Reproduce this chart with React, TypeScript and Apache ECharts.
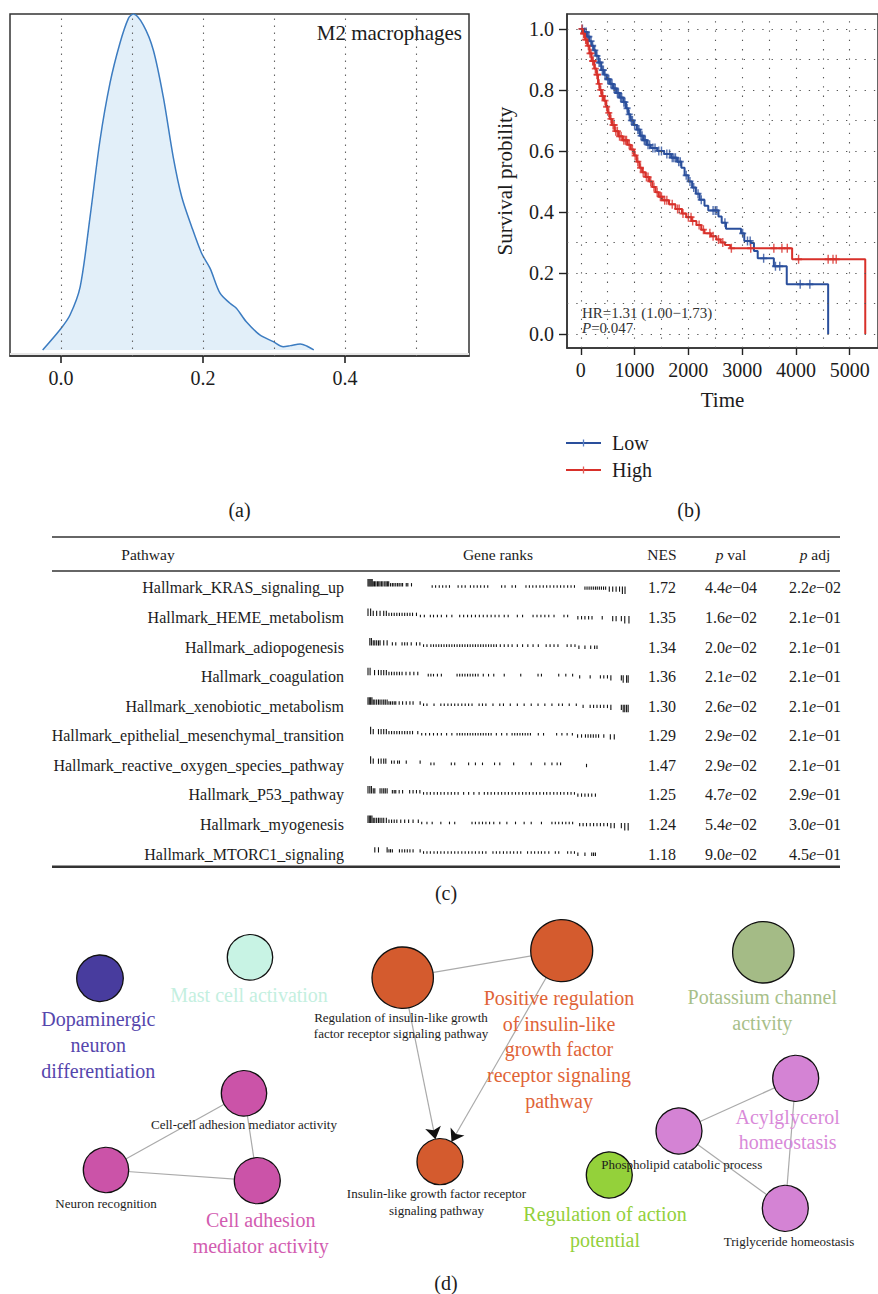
import React, { useEffect, useRef } from "react";
import * as echarts from "echarts";

const FONT = '"Liberation Serif", "Times New Roman", serif';
const INK = "#1c1c1c";
const BLUE = "#2a4f9c";
const RED = "#d8302a";

// ---------- (a) density of M2 macrophages ----------
const densityX = [-0.0258, 0.0, 0.0127, 0.027, 0.041, 0.055, 0.069, 0.083, 0.095, 0.102, 0.116, 0.13, 0.144, 0.158, 0.17, 0.184, 0.198, 0.21, 0.224, 0.238, 0.247, 0.261, 0.28, 0.299, 0.313, 0.323, 0.337, 0.346, 0.356];
const densityY = [0, 0.064, 0.104, 0.188, 0.397, 0.625, 0.794, 0.913, 0.987, 1.0, 0.967, 0.893, 0.754, 0.575, 0.456, 0.367, 0.288, 0.243, 0.169, 0.139, 0.124, 0.084, 0.045, 0.025, 0.01, 0.013, 0.018, 0.012, 0];
const densityTicks = [0, 0.2, 0.4];
const densityGridLines = [0, 0.1, 0.2, 0.3, 0.4, 0.5];

// ---------- (b) Kaplan-Meier ----------
const lowTimes = [0, 60, 110, 160, 200, 240, 280, 330, 380, 430, 480, 540, 600, 660, 720, 790, 840, 880, 920, 980, 1040, 1100, 1160, 1230, 1300, 1420, 1550, 1680, 1790, 1870, 1930, 2000, 2070, 2140, 2210, 2300, 2370, 2560, 2620, 2700, 2980, 3040, 3160, 3220, 3290, 3590, 3830, 4600];
const lowSurv = [1.0, 0.99, 0.975, 0.96, 0.945, 0.93, 0.912, 0.89, 0.865, 0.85, 0.835, 0.82, 0.805, 0.79, 0.775, 0.76, 0.74, 0.72, 0.7, 0.685, 0.67, 0.65, 0.635, 0.62, 0.61, 0.6, 0.59, 0.578, 0.565, 0.545, 0.52, 0.5, 0.48, 0.46, 0.44, 0.42, 0.405, 0.385, 0.365, 0.345, 0.33, 0.305, 0.298, 0.272, 0.248, 0.222, 0.163, 0.0];
const highTimes = [0, 40, 80, 120, 160, 200, 250, 290, 320, 350, 390, 430, 470, 500, 540, 580, 630, 700, 780, 870, 930, 990, 1040, 1090, 1140, 1200, 1270, 1330, 1390, 1450, 1520, 1640, 1760, 1880, 1960, 2060, 2150, 2240, 2300, 2420, 2520, 2600, 2680, 2780, 3930, 5290];
const highSurv = [1.0, 0.985, 0.965, 0.945, 0.92, 0.895, 0.87, 0.85, 0.82, 0.8, 0.78, 0.765, 0.745, 0.725, 0.705, 0.685, 0.665, 0.648, 0.635, 0.62, 0.605, 0.585, 0.565, 0.545, 0.53, 0.515, 0.5, 0.482, 0.465, 0.45, 0.438, 0.425, 0.41, 0.395, 0.383, 0.37, 0.357, 0.342, 0.33, 0.32, 0.31, 0.3, 0.292, 0.281, 0.245, 0.0];
const lowCensor = [30, 70, 100, 130, 150, 190, 220, 260, 300, 340, 360, 400, 420, 450, 500, 520, 560, 580, 620, 640, 680, 700, 740, 760, 800, 820, 860, 900, 940, 960, 1000, 1060, 1080, 1120, 1140, 1180, 1200, 1250, 1280, 1340, 1380, 1450, 1500, 1600, 1650, 1700, 1730, 1760, 1820, 1850, 1960, 2030, 2100, 2180, 2240, 2460, 2500, 2530, 2680, 3010, 3100, 3150, 3400, 3620, 3700, 4080, 4260];
const highCensor = [20, 50, 60, 90, 100, 140, 170, 190, 220, 230, 270, 300, 310, 340, 370, 400, 410, 450, 480, 520, 560, 600, 620, 650, 680, 720, 750, 800, 830, 850, 900, 960, 1010, 1060, 1110, 1160, 1220, 1250, 1300, 1360, 1420, 1480, 1500, 1560, 1600, 1700, 1800, 1830, 1900, 2000, 2050, 2080, 2200, 2280, 2400, 2460, 2560, 2640, 2800, 3160, 3590, 3740, 3840, 4050, 4600, 4690, 4750];
const kmTimeTicks = [0, 1000, 2000, 3000, 4000, 5000];
const kmProbTicks = [0, 0.2, 0.4, 0.6, 0.8, 1.0];
const kmTimeGridLines = [0, 500, 1000, 1500, 2000, 2500, 3000, 3500, 4000, 4500, 5000];
const kmProbGridLines = [0, 0.1, 0.2, 0.3, 0.4, 0.5, 0.6, 0.7, 0.8, 0.9, 1.0];

// ---------- (c) GSEA table ----------
const pathways = [
  "Hallmark_KRAS_signaling_up",
  "Hallmark_HEME_metabolism",
  "Hallmark_adiopogenesis",
  "Hallmark_coagulation",
  "Hallmark_xenobiotic_metabolism",
  "Hallmark_epithelial_mesenchymal_transition",
  "Hallmark_reactive_oxygen_species_pathway",
  "Hallmark_P53_pathway",
  "Hallmark_myogenesis",
  "Hallmark_MTORC1_signaling",
];
const nesValues = ["1.72", "1.35", "1.34", "1.36", "1.30", "1.29", "1.47", "1.25", "1.24", "1.18"];
const pValues = [4.4e-4, 1.6e-2, 2.0e-2, 2.1e-2, 2.6e-2, 2.9e-2, 2.9e-2, 4.7e-2, 5.4e-2, 9.0e-2];
const pAdjValues = [2.2e-2, 2.1e-1, 2.1e-1, 2.1e-1, 2.1e-1, 2.1e-1, 2.1e-1, 2.9e-1, 3.0e-1, 4.5e-1];
// gene rank positions (percent of ranked list) for each pathway
const geneRanks: number[][] = [
  [0, 0.4, 0.8, 1.2, 1.6, 2, 2.5, 3, 3.6, 4.1, 4.6, 5.2, 5.7, 6.4, 6.9, 7.4, 7.9, 8.6, 9.3, 9.9, 10.6, 11.3, 11.9, 12.6, 13.2, 14.6, 15.2, 16.6, 24.5, 25.8, 27.2, 28.5, 29.8, 31.1, 34.4, 35.8, 37.1, 39.1, 40.4, 41.7, 43, 44.4, 45.7, 51, 52.3, 55, 56.3, 60.3, 61.6, 62.9, 64.2, 65.6, 66.9, 68.2, 69.5, 70.9, 72.2, 73.5, 74.8, 76.2, 77.5, 78.8, 82.8, 83.6, 84.4, 85.2, 86, 86.8, 87.5, 88.3, 89.1, 89.9, 90.7, 92.1, 93.4, 94.7, 96, 97.1, 98.1],
  [0, 1, 2, 3.3, 4.6, 6, 7, 8, 9, 10, 11, 12, 13, 14, 15, 16, 17, 18.5, 20, 21.5, 23.8, 25, 26.5, 28, 30, 32, 35, 36.5, 38, 39.5, 41, 42.5, 44, 45.5, 47, 48.5, 50, 52, 53.5, 57, 59, 63, 64.5, 66, 67.5, 69, 71, 74.8, 76.2, 80.1, 81.5, 82.8, 84.2, 85.5, 89.4, 93.4, 94.7, 96.7, 98, 99.6],
  [0.7, 1.3, 2, 2.6, 3.3, 4, 4.6, 6, 7.3, 9.3, 10.6, 13, 14, 15, 16.5, 18.5, 19.8, 21.2, 22.5, 24, 25, 26, 27, 28, 29, 30, 31, 32, 33, 34, 35, 36, 37, 38, 39, 40, 41, 42, 43, 44, 45, 46, 47, 48, 49, 50.5, 52, 53.5, 55, 57, 59, 61, 63, 65, 68, 69.5, 71, 72.5, 76, 77.5, 79, 80.5, 82.8, 85, 86.5, 87.4],
  [0, 0.8, 2.5, 4, 5, 6, 7, 8, 9, 10, 11, 12, 13, 14.5, 16, 17.5, 19, 23, 24, 25, 26.5, 28, 34, 35, 36, 37, 38, 39, 40, 41, 42, 44, 46, 48, 52, 58.3, 64.9, 66.2, 72.8, 75.5, 78.1, 80.8, 84.8, 88.7, 90, 91.4, 92.7, 96.7, 97.4, 98.7, 99.3],
  [0, 0.5, 1, 1.5, 2, 2.6, 3.3, 4, 4.6, 5.3, 6, 6.6, 7.3, 8, 8.6, 9.3, 10, 10.6, 11.9, 13.2, 14.6, 16, 17.2, 19.9, 21.2, 22.5, 25.2, 27.8, 29.1, 30.5, 31.8, 33.1, 34.4, 35.8, 37.1, 38.4, 39.7, 42.4, 43.7, 45, 47.7, 50.3, 51.7, 54.3, 57, 59.6, 62.3, 64.9, 67.5, 70.2, 72.8, 74.2, 76.8, 79.5, 82.1, 84.8, 86.1, 87.4, 88.7, 90, 91.4, 92.7, 96.7, 97.4, 98, 98.7, 99.3],
  [1, 2, 4, 5, 6, 7, 8, 9, 10, 11, 12, 13, 14, 15, 16, 17, 19, 20.5, 22, 23.5, 25, 26.5, 28, 30, 32, 34, 35, 36, 37, 38, 39, 40, 41, 42, 43, 44, 45, 46, 47, 49, 51, 53, 55, 56, 57, 58, 59, 60, 61, 62, 65, 67, 72, 74, 76, 78, 80, 81.5, 83, 84, 85, 86, 87, 88, 90, 92.5, 94],
  [1, 2, 4, 5, 6, 6.8, 9, 10, 11.3, 12, 14.6, 19.9, 24, 25.2, 31.8, 33.1, 38.4, 41, 43.7, 48.3, 50.3, 55.6, 62.3, 67.5, 70.2, 72.2, 73.5, 83.4],
  [0, 0.7, 1.3, 2, 2.6, 4.6, 5.3, 6, 6.6, 7.3, 9.3, 10, 10.6, 11.9, 13.2, 15.9, 17.2, 18.5, 19.8, 21.2, 22.5, 23.8, 25.2, 26.5, 27.8, 29.1, 30.5, 31.8, 33.1, 34.4, 36.5, 38.4, 40.4, 42.4, 44.4, 45.7, 47, 48.3, 49.7, 51, 52.3, 53.6, 55, 56.3, 57.6, 59, 60.3, 61.6, 63, 64.3, 65.6, 67, 68.2, 69.5, 70.9, 72.2, 73.5, 74.8, 76.2, 77.5, 78.8, 80.1, 81.5, 82.8, 84.1, 85.4, 86.8],
  [0, 0.5, 1, 1.5, 2, 2.6, 3.3, 4, 4.6, 5.3, 6, 7, 8, 9, 10, 11, 12.5, 14, 15.5, 17.2, 19.2, 20.5, 22.5, 24.5, 27.8, 31.1, 33.1, 39.7, 41, 42.4, 43.7, 45, 46.4, 48, 50.3, 53, 56.3, 59.6, 62.3, 66.2, 70.2, 71.5, 72.8, 74.2, 75.5, 76.8, 78.1, 80.8, 82.1, 83.4, 84.8, 86.1, 87.4, 88.7, 90, 91.4, 92.7, 94, 96.7, 98, 99.3],
  [2.6, 4, 7.3, 8, 8.6, 9.3, 12, 13, 14, 15, 16, 17.2, 19.9, 21.2, 22.5, 23.8, 25.2, 26.5, 27.8, 29.1, 30.5, 31.8, 33.1, 34.4, 35.8, 37.1, 38.4, 39.7, 41, 42.4, 43.7, 45, 47.7, 49, 50.3, 51.7, 53, 54.3, 55.6, 57, 58.3, 60.9, 62.3, 63.6, 65, 66.2, 67.5, 69, 71.5, 72.8, 76.2, 77.5, 78.8, 80.1, 82.8, 85.4, 86.1, 86.8],
];
// ranked statistic (by rank percentile band) -> tick height / direction
const rankStatBreaks = [2, 8, 20, 80, 92, 97, 101];
const rankStatValues = [1.0, 0.7, 0.45, 0.0, -0.45, -0.7, -1.0];

// ---------- (d) enrichment network ----------
const nodeNames = [
  "Dopaminergic neuron differentiation",
  "Mast cell activation",
  "Regulation of insulin-like growth factor receptor signaling pathway",
  "Positive regulation of insulin-like growth factor receptor signaling pathway",
  "Potassium channel activity",
  "Cell-cell adhesion mediator activity",
  "Neuron recognition",
  "Cell adhesion mediator activity",
  "Insulin-like growth factor receptor signaling pathway",
  "Regulation of action potential",
  "Phospholipid catabolic process",
  "Acylglycerol homeostasis",
  "Triglyceride homeostasis",
];
const nodeX = [100, 250, 402.7, 561.7, 763.3, 244, 106, 257.3, 440, 609.3, 679, 795.7, 785.3];
const nodeY = [978.3, 957.3, 977.7, 950.7, 952.3, 1093.3, 1170, 1180.7, 1161.7, 1175, 1131, 1078.3, 1208.3];
const nodeDiameter = [46.6, 45.4, 61.4, 62, 61.4, 45.4, 45.4, 46, 46, 46, 46, 46, 46];
const nodeColors = ["#483c9e", "#c8f3e4", "#d45b2e", "#d45b2e", "#a4bb86", "#cb53a8", "#cb53a8", "#cb53a8", "#d45b2e", "#94d13a", "#d483d4", "#d483d4", "#d483d4"];
const nodeLabels = [
  "Dopaminergic\nneuron\ndifferentiation",
  "Mast cell activation",
  "Regulation of insulin-like growth\nfactor receptor signaling pathway",
  "Positive regulation\nof insulin-like\ngrowth factor\nreceptor signaling\npathway",
  "Potassium channel\nactivity",
  "Cell-cell adhesion mediator activity",
  "Neuron recognition",
  "Cell adhesion\nmediator activity",
  "Insulin-like growth factor receptor\nsignaling pathway",
  "Regulation of action\npotential",
  "Phospholipid catabolic process",
  "Acylglycerol\nhomeostasis",
  "Triglyceride homeostasis",
];
const nodeLabelIsCluster = [true, true, false, true, true, false, false, true, false, true, false, true, false];
const nodeLabelColors = ["#5546ad", "#c4efdf", INK, "#df6437", "#a8bf8a", INK, INK, "#d25cb0", INK, "#93d03b", INK, "#d98ad9", INK];
const nodeLabelDistance = [4, 1.5, 0, 2.7, 1, 0, 1.7, 3, 0.3, 3, 1.7, 2, 1.4];
const nodeLabelShift = [-1.7, -1, -1.7, -2.7, -1, 0, 0, 3.4, -3.5, -4.3, 2.7, -8, 3.7];
const edges: [number, number, boolean][] = [
  [2, 3, false], [2, 8, true], [3, 8, true],
  [5, 6, false], [5, 7, false], [6, 7, false],
  [10, 11, false], [10, 12, false], [11, 12, false],
];

function survivalAt(times: number[], surv: number[], t: number) {
  let s = surv[0];
  for (let i = 0; i < times.length; i++) if (times[i] <= t) s = surv[i];
  return s;
}
function statAt(p: number) {
  for (let i = 0; i < rankStatBreaks.length; i++) if (p < rankStatBreaks[i]) return rankStatValues[i];
  return rankStatValues[rankStatValues.length - 1];
}
function sci(v: number) {
  const [m, e] = v.toExponential(1).split("e");
  const ex = parseInt(e, 10);
  return `{n|${m}}{i|e}{n|${ex < 0 ? "−" : "+"}${String(Math.abs(ex)).padStart(2, "0")}}`;
}
const richNum = {
  n: { fontSize: 16, fontFamily: FONT, fill: INK },
  i: { fontSize: 16, fontFamily: FONT, fontStyle: "italic", fill: INK },
};

function txt(x: number, y: number, text: string, size: number, align = "center", extra: any = {}) {
  return {
    type: "text",
    x,
    y,
    silent: true,
    style: {
      text,
      fontSize: size,
      fontFamily: FONT,
      fill: INK,
      align,
      verticalAlign: "middle",
      textAlign: align,
      textVerticalAlign: "middle",
      ...extra,
    },
  };
}
function hline(x1: number, x2: number, y: number, w: number, color = "#333") {
  return { type: "line", silent: true, shape: { x1, y1: y, x2, y2: y }, style: { stroke: color, lineWidth: w } };
}

function buildOption() {
  const tickData: number[][] = [];
  geneRanks.forEach((row, r) => row.forEach((p) => tickData.push([p, r, statAt(p)])));

  const kmMarkLines = kmTimeGridLines
    .map((v) => ({ xAxis: v }))
    .concat(kmProbGridLines.map((v) => ({ yAxis: v })) as any);

  const graphNodes = nodeNames.map((name, i) => ({
    name,
    value: [nodeX[i], nodeY[i]],
    symbolSize: nodeDiameter[i],
    itemStyle: { color: nodeColors[i], borderColor: "#111", borderWidth: 1.3 },
    label: {
      show: true,
      position: "bottom",
      distance: nodeLabelDistance[i],
      offset: [nodeLabelShift[i], 0],
      formatter: nodeLabels[i],
      fontFamily: FONT,
      fontSize: nodeLabelIsCluster[i] ? 20 : 13,
      lineHeight: nodeLabelIsCluster[i] ? 25.7 : 16.6,
      color: nodeLabelColors[i],
      align: "center",
    },
  }));
  const graphLinks: any[] = [];
  edges.forEach(([a, b]) => graphLinks.push({ source: a, target: b }));
  edges.forEach(([a, b, arrow]) => {
    if (arrow)
      graphLinks.push({
        source: a,
        target: b,
        symbol: ["none", "arrow"],
        symbolSize: [4, 12],
        lineStyle: { color: "#111", width: 0, opacity: 1 },
      });
  });

  const axisLabelBase = { fontFamily: FONT, color: INK, fontSize: 20 };

  return {
    animation: false,
    backgroundColor: "#ffffff",
    textStyle: { fontFamily: FONT },
    grid: [
      { left: 10, top: 14, width: 459, height: 342, show: true, borderColor: "#333", borderWidth: 1.5, backgroundColor: "rgba(0,0,0,0)" },
      { left: 567, top: 14, width: 315, height: 334, show: true, borderColor: "#333", borderWidth: 1.5, backgroundColor: "rgba(0,0,0,0)" },
      { left: 368, top: 573.2, width: 262, height: 295.6, show: false },
      { left: 0, top: 0, width: 878, height: 1294, show: false },
    ],
    xAxis: [
      {
        gridIndex: 0, type: "value", min: -0.0718, max: 0.5746,
        axisLine: { show: true, onZero: false, lineStyle: { color: "#333", width: 1.5 } },
        axisTick: { show: true, customValues: densityTicks, length: 7, lineStyle: { color: "#222", width: 1.6 } },
        axisLabel: { ...axisLabelBase, customValues: densityTicks, formatter: (v: number) => v.toFixed(1), margin: 12 },
        splitLine: { show: false },
      },
      {
        gridIndex: 1, type: "value", min: -257, max: 5527,
        axisLine: { show: true, onZero: false, lineStyle: { color: "#333", width: 1.5 } },
        axisTick: { show: true, customValues: kmTimeTicks, length: 7, lineStyle: { color: "#222", width: 1.4 } },
        axisLabel: { ...axisLabelBase, customValues: kmTimeTicks, formatter: (v: number) => String(v), margin: 12 },
        splitLine: { show: false },
        name: "Time", nameLocation: "middle", nameGap: 41,
        nameTextStyle: { fontFamily: FONT, fontSize: 21, color: INK },
      },
      { gridIndex: 2, type: "value", min: 0, max: 100, show: false },
      { gridIndex: 3, type: "value", min: 0, max: 878, show: false },
    ],
    yAxis: [
      { gridIndex: 0, type: "value", min: -0.0179, max: 1.0, show: false },
      {
        gridIndex: 1, type: "value", min: -0.046, max: 1.049,
        axisLine: { show: true, onZero: false, lineStyle: { color: "#333", width: 1.5 } },
        axisTick: { show: true, customValues: kmProbTicks, length: 8, lineStyle: { color: "#222", width: 1.4 } },
        axisLabel: { ...axisLabelBase, customValues: kmProbTicks, formatter: (v: number) => v.toFixed(1), margin: 13 },
        splitLine: { show: false },
        name: "Survival probility", nameLocation: "middle", nameGap: 52,
        nameTextStyle: { fontFamily: FONT, fontSize: 21, color: INK },
      },
      {
        gridIndex: 2, type: "category", data: pathways, inverse: true,
        axisLine: { show: false }, axisTick: { show: false }, splitLine: { show: false },
        axisLabel: { fontFamily: FONT, fontSize: 16, color: INK, margin: 24 },
      },
      { gridIndex: 3, type: "value", min: 0, max: 1294, inverse: true, show: false },
    ],
    series: [
      {
        type: "line", xAxisIndex: 0, yAxisIndex: 0,
        data: densityX.map((x, i) => [x, densityY[i]]),
        smooth: 0.3, showSymbol: false, silent: true,
        lineStyle: { color: "#3c7cc1", width: 1.5 },
        areaStyle: { color: "#e2eff9", opacity: 1 },
        markLine: {
          silent: true, symbol: ["none", "none"], label: { show: false }, animation: false,
          lineStyle: { type: [1.5, 5.5], color: "#666", width: 1.1 },
          data: [
            ...densityGridLines.map((v) => ({ xAxis: v })),
            { yAxis: -0.009, lineStyle: { type: "solid", color: "#e6e6e6", width: 2 } },
          ],
        },
      },
      {
        name: "Low", type: "line", xAxisIndex: 1, yAxisIndex: 1, step: "end",
        data: lowTimes.map((t, i) => [t, lowSurv[i]]),
        showSymbol: false, silent: true, lineStyle: { color: BLUE, width: 2 },
        markLine: {
          silent: true, symbol: ["none", "none"], label: { show: false }, animation: false,
          lineStyle: { type: [1.3, 8], color: "#555", width: 1.1 },
          data: kmMarkLines,
        },
      },
      {
        name: "High", type: "line", xAxisIndex: 1, yAxisIndex: 1, step: "end",
        data: highTimes.map((t, i) => [t, highSurv[i]]),
        showSymbol: false, silent: true, lineStyle: { color: RED, width: 2 },
      },
      {
        type: "scatter", xAxisIndex: 1, yAxisIndex: 1, silent: true,
        data: lowCensor.map((t) => [t, survivalAt(lowTimes, lowSurv, t)]),
        symbol: "path://M0,5L10,5M5,0L5,10", symbolSize: [7, 9],
        itemStyle: { color: "rgba(0,0,0,0)", borderColor: BLUE, borderWidth: 1.6 },
      },
      {
        type: "scatter", xAxisIndex: 1, yAxisIndex: 1, silent: true,
        data: highCensor.map((t) => [t, survivalAt(highTimes, highSurv, t)]),
        symbol: "path://M0,5L10,5M5,0L5,10", symbolSize: [7, 9],
        itemStyle: { color: "rgba(0,0,0,0)", borderColor: RED, borderWidth: 1.6 },
      },
      {
        type: "custom", xAxisIndex: 2, yAxisIndex: 2, clip: false, silent: true,
        data: tickData,
        renderItem: (params: any, api: any) => {
          const c = api.coord([api.value(0), api.value(1)]);
          const v = api.value(2);
          const base = c[1] - 1.5;
          let y1 = base - 1.3;
          let y2 = base + 1.3;
          const h = Math.max(2.6, Math.abs(v) * 7.5);
          if (v > 0) { y1 = base - h; y2 = base; }
          else if (v < 0) { y1 = base; y2 = base + h; }
          return { type: "line", shape: { x1: c[0], y1, x2: c[0], y2 }, style: { stroke: "#111", lineWidth: 1.1 } };
        },
      },
      {
        type: "custom", xAxisIndex: 2, yAxisIndex: 2, clip: false, silent: true,
        data: pathways.map((_, i) => [0, i]),
        renderItem: (params: any, api: any) => {
          const i = api.value(1);
          const y = api.coord([0, i])[1];
          const mk = (x: number, text: string) => ({
            type: "text", x, y,
            style: { text, rich: richNum, fontSize: 16, fontFamily: FONT, fill: INK, align: "center", verticalAlign: "middle" },
          });
          return {
            type: "group",
            children: [mk(662, `{n|${nesValues[i]}}`), mk(731, sci(pValues[i])), mk(815, sci(pAdjValues[i]))],
          };
        },
      },
      {
        type: "graph", coordinateSystem: "cartesian2d", xAxisIndex: 3, yAxisIndex: 3,
        layout: "none", roam: false, silent: true, z: 3,
        data: graphNodes,
        links: graphLinks,
        edgeSymbol: ["none", "none"],
        lineStyle: { color: "#aaaaaa", width: 1.2, opacity: 1, curveness: 0 },
        emphasis: { disabled: true },
      },
    ],
    graphic: {
      elements: [
        txt(462, 33, "M2 macrophages", 21, "right"),
        // HR text
        txt(582, 313.3, "HR=1.31 (1.00−1.73)", 15, "left", { fill: "#333" }),
        txt(582, 328.3, "{i|P}=0.047", 15, "left", {
          fill: "#333",
          rich: { i: { fontStyle: "italic", fontSize: 15, fontFamily: FONT, fill: "#333" } },
        }),
        // legend
        hline(566, 601, 443, 2.2, BLUE),
        { type: "line", silent: true, shape: { x1: 583.5, y1: 439.5, x2: 583.5, y2: 446.5 }, style: { stroke: "#5a7fc0", lineWidth: 1.3 } },
        txt(612, 443, "Low", 20, "left"),
        hline(566, 601, 470, 2.2, RED),
        { type: "line", silent: true, shape: { x1: 583.5, y1: 466.5, x2: 583.5, y2: 473.5 }, style: { stroke: "#e0605a", lineWidth: 1.3 } },
        txt(612, 470, "High", 20, "left"),
        // panel labels
        txt(239.5, 510, "(a)", 20),
        txt(689, 510, "(b)", 20),
        txt(446, 893, "(c)", 20),
        txt(446, 1283, "(d)", 20),
        // table rules
        hline(52, 840, 537, 1.5),
        hline(52, 840, 571, 1.5),
        hline(52, 840, 866.7, 2.6),
        // table header
        txt(148, 554, "Pathway", 15.5),
        txt(498, 554, "Gene ranks", 15.5),
        txt(662, 554, "NES", 15.5),
        txt(731, 554, "{i|p} val", 15.5, "center", { rich: { i: { fontStyle: "italic", fontSize: 15.5, fontFamily: FONT, fill: INK } } }),
        txt(815, 554, "{i|p} adj", 15.5, "center", { rich: { i: { fontStyle: "italic", fontSize: 15.5, fontFamily: FONT, fill: INK } } }),
      ],
    },
  };
}

export default function App() {
  const ref = useRef<HTMLDivElement>(null);
  useEffect(() => {
    if (!ref.current) return;
    const chart = echarts.init(ref.current, null, { renderer: "svg" });
    chart.setOption(buildOption() as any);
    return () => chart.dispose();
  }, []);
  return (
    <div
      ref={ref}
      style={{ position: "absolute", left: 0, top: 0, width: 878, height: 1294, background: "#fff" }}
    />
  );
}
